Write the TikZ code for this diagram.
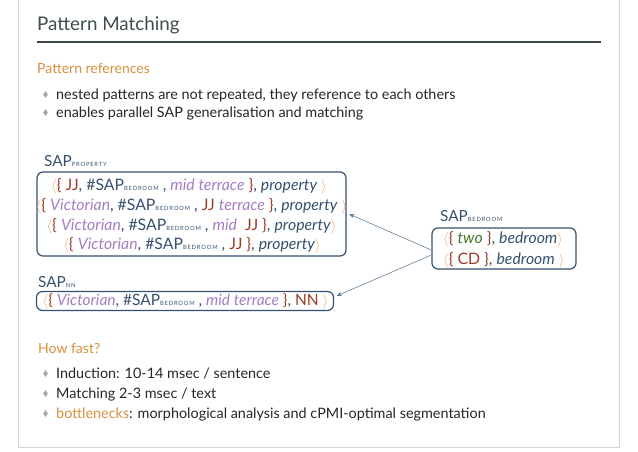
\documentclass[tikz,border=0pt]{standalone}
\usepackage{fontspec}
\setmainfont{Lato}
\usetikzlibrary{arrows.meta,shapes.geometric}
\definecolor{framec}{HTML}{D4D4D4}
\definecolor{titlec}{HTML}{3E4C4B}
\definecolor{rulec}{HTML}{3A4748}
\definecolor{orangec}{HTML}{D8903C}
\definecolor{textc}{HTML}{262626}
\definecolor{bulc}{HTML}{A8A8A8}
\definecolor{boxc}{HTML}{35506E}
\definecolor{arrc}{HTML}{4A6C92}
\definecolor{purc}{HTML}{A47DC2}
\definecolor{redc}{HTML}{9A3B26}
\definecolor{grc}{HTML}{3F7A2A}
\definecolor{angc}{HTML}{EAA56C}
\newcommand\Sb[1]{\raisebox{-0.2pt}{\fontsize{5.8}{6}\selectfont\addfontfeature{LetterSpace=14}#1}}
\newcommand\La{\textcolor{angc}{$\langle$}}
\newcommand\Ra{\textcolor{angc}{$\rangle$}}
\newcommand\Lb{\textcolor{redc}{\{}}
\newcommand\Rb{\textcolor{redc}{\}}}
\newcommand\pu[1]{\textcolor{purc}{\itshape #1}}
\newcommand\rd[1]{\textcolor{redc}{#1}}
\newcommand\gr[1]{\textcolor{grc}{\itshape #1}}
\newcommand\itx[1]{{\itshape #1}}
\tikzset{
  txt/.style={inner sep=0, anchor=base west, font=\fontsize{14.4}{16}\selectfont, text=textc},
  hd/.style={inner sep=0, anchor=base west, font=\fontsize{14}{16}\selectfont, text=orangec},
  bul/.style={diamond, fill=bulc, inner sep=0, minimum width=5pt, minimum height=7pt},
  sapbox/.style={draw=boxc, line width=1.2pt, rounded corners=6pt, inner sep=0},
  pat/.style={inner sep=0, anchor=base, font=\fontsize{15.8}{17}\selectfont, text=boxc},
  lab/.style={inner sep=0, anchor=base west, font=\fontsize{15.3}{17}\selectfont, text=boxc},
  ref/.style={draw=arrc, line width=0.5pt, -{Stealth[length=5pt,width=4pt]}},
}
\begin{document}
\begin{tikzpicture}[x=1pt,y=1pt]
\useasboundingbox (0,0) rectangle (638,-451);
% frame
\draw[framec, line width=1pt] (18,0) -- (18,-447) -- (619,-447) -- (619,0);
% title
\node[inner sep=0, anchor=base west, font=\fontsize{18.8}{24}\selectfont, text=titlec] (title) at (37,-30) {Pattern Matching};
\draw[rulec, line width=2.4pt] (37,-42) -- (601,-42);
% pattern references
\node[hd] (h1) at (37,-73) {Pattern references};
\node[bul] (b1) at (45.5,-94.5) {};
\node[txt] (t1) at (56,-99) {nested patterns are not repeated, they reference to each others};
\node[bul] (b2) at (45.5,-112.5) {};
\node[txt] (t2) at (56,-117) {enables parallel SAP generalisation and matching};
% SAP property
\node[lab] (l1) at (44,-166) {SAP\Sb{PROPERTY}};
\node[sapbox, minimum width=309pt, minimum height=84pt] (box1) at (191.5,-214) {};
\node[pat] (p1) at (189,-190) {\La\Lb\ \rd{JJ}, \#SAP\Sb{BEDROOM} , \pu{mid terrace} \Rb, \itx{property} \Ra};
\node[pat] (p2) at (191.5,-210) {\La\Lb\ \pu{Victorian}, \#SAP\Sb{BEDROOM} , \rd{JJ} \pu{terrace} \Rb, \itx{property} \Ra};
\node[pat] (p3) at (191.5,-230) {\La\Lb\ \pu{Victorian}, \#SAP\Sb{BEDROOM} , \pu{mid}\ \ \rd{JJ} \Rb, \itx{property}\Ra};
\node[pat] (p4) at (192,-249) {\La\Lb\ \pu{Victorian}, \#SAP\Sb{BEDROOM} , \rd{JJ} \Rb, \itx{property}\Ra};
% SAP NN
\node[lab] (l2) at (38,-287) {SAP\Sb{NN}};
\node[sapbox, minimum width=297pt, minimum height=19pt] (box2) at (185,-301) {};
\node[pat, font=\fontsize{15.5}{17}\selectfont] (p5) at (185.5,-305.5) {\La\Lb\ \pu{Victorian}, \#SAP\Sb{BEDROOM} , \pu{mid terrace} \Rb, \rd{NN} \Ra};
% SAP bedroom
\node[lab] (l3) at (440,-221) {SAP\Sb{BEDROOM}};
\node[sapbox, minimum width=144pt, minimum height=41pt] (box3) at (504,-248.5) {};
\node[pat, anchor=base west] (p6) at (443,-243) {\La\Lb\ \gr{two} \Rb, \itx{bedroom}\Ra};
\node[pat, anchor=base west] (p7) at (443,-264) {\La\Lb\ \rd{CD} \Rb, \itx{bedroom} \Ra};
% connectors
\coordinate (s1) at ([yshift=-1.5pt]box3.west);
\coordinate (s2) at ([yshift=-6.5pt]box3.west);
\draw[ref, shorten <=1pt, shorten >=3pt] (s1) -- ([yshift=1pt]box1.east);
\draw[ref, shorten <=1pt, shorten >=3pt] (s2) -- ([yshift=4pt]box2.east);
% how fast
\node[hd] (h2) at (38,-353) {How fast?};
\node[bul] (b3) at (45.5,-373.5) {};
\node[txt] (t3) at (56,-378) {Induction: 10-14 msec / sentence};
\node[bul] (b4) at (45.5,-393.5) {};
\node[txt] (t4) at (56,-398) {Matching 2-3 msec / text};
\node[bul] (b5) at (45.5,-413.5) {};
\node[txt] (t5) at (56,-418) {\textcolor{orangec}{bottlenecks}: morphological analysis and cPMI-optimal segmentation};
\end{tikzpicture}
\end{document}
